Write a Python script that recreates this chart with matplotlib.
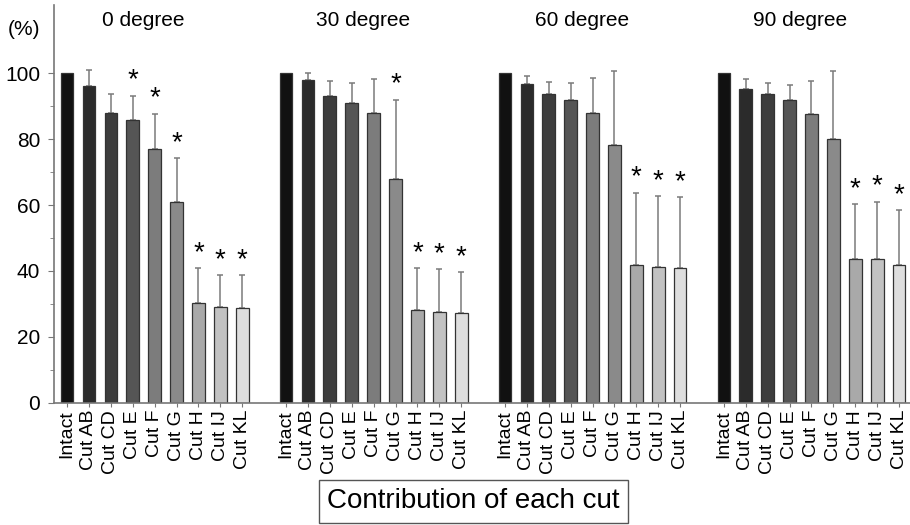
import numpy as np
import matplotlib
matplotlib.use("Agg")
import matplotlib.pyplot as plt

plt.rcParams['font.family'] = ['Liberation Sans', 'DejaVu Sans']

cuts = ['Intact', 'Cut AB', 'Cut CD', 'Cut E', 'Cut F', 'Cut G', 'Cut H', 'Cut IJ', 'Cut KL']
angles = ['0 degree', '30 degree', '60 degree', '90 degree']

# mean contribution (%) and upper SD for each angle
mean_0 = [100, 96.2, 87.9, 85.9, 76.9, 61.0, 30.4, 29.2, 28.7]
sd_0 = [0, 4.6, 5.7, 7.2, 10.8, 13.1, 10.5, 9.6, 10.1]
mean_30 = [100, 98.0, 93.0, 90.8, 87.9, 67.8, 28.1, 27.5, 27.3]
sd_30 = [0, 2.1, 4.5, 6.1, 10.2, 24.1, 12.8, 13.1, 12.4]
mean_60 = [100, 96.8, 93.6, 91.8, 87.9, 78.3, 41.7, 41.1, 40.9]
sd_60 = [0, 2.2, 3.7, 5.1, 10.6, 22.2, 22.0, 21.6, 21.5]
mean_90 = [100, 95.3, 93.6, 91.8, 87.7, 80.1, 43.6, 43.6, 41.7]
sd_90 = [0, 2.8, 3.4, 4.5, 9.8, 20.5, 16.6, 17.4, 16.7]

# significance marks (*)
sig_0 = [0, 0, 0, 1, 1, 1, 1, 1, 1]
sig_30 = [0, 0, 0, 0, 0, 1, 1, 1, 1]
sig_60 = [0, 0, 0, 0, 0, 0, 1, 1, 1]
sig_90 = [0, 0, 0, 0, 0, 0, 1, 1, 1]

means = [mean_0, mean_30, mean_60, mean_90]
sds = [sd_0, sd_30, sd_60, sd_90]
sigs = [sig_0, sig_30, sig_60, sig_90]

colors = ['#111111', '#2b2b2b', '#3d3d3d', '#555555', '#7c7c7c',
          '#8a8a8a', '#a9a9a9', '#c2c2c2', '#dedede']

fig = plt.figure(figsize=(9.1, 5.25), dpi=100)
ax = fig.add_axes([0.0593, 0.2324, 0.9407, 0.758])

n = len(cuts)
ticks = []
labels = []
for g in range(len(angles)):
    x = np.arange(n) + g * (n + 1)
    m = np.array(means[g])
    s = np.array(sds[g])
    ax.bar(x, m, width=0.58, color=colors, edgecolor='#333333', linewidth=0.9, zorder=2)
    has_err = s > 0
    ax.errorbar(x[has_err], m[has_err], yerr=[np.zeros(has_err.sum()), s[has_err]],
                fmt='none', ecolor='#7a7a7a', elinewidth=1.1, capsize=2.2, capthick=1.1, zorder=1)
    for xi, mi, si, flag in zip(x, m, s, sigs[g]):
        if flag:
            ax.text(xi, mi + si + 4.6, '*', ha='center', va='center', fontsize=20)
    ax.text(x[0] + 3.5, 116, angles[g], ha='center', va='center', fontsize=15)
    ticks.extend(x)
    labels.extend(cuts)

ax.set_xlim(-0.6, 38.5)
ax.set_ylim(0, 120.6)
ax.set_xticks(ticks)
ax.set_xticklabels(labels, rotation=90, fontsize=14)
ax.set_yticks(np.arange(0, 101, 20))
ax.set_yticks([10, 30, 50, 70, 90], minor=True)
ax.tick_params(axis='y', labelsize=15, length=4, color='#777777', pad=6)
ax.tick_params(axis='y', which='minor', length=3, color='#777777')
ax.tick_params(axis='x', length=3, color='#777777', pad=2)
for side in ['top', 'right']:
    ax.spines[side].set_visible(False)
for side in ['left', 'bottom']:
    ax.spines[side].set_color('#777777')
    ax.spines[side].set_linewidth(1.2)

fig.text(0.008, 0.943, '(%)', fontsize=15, ha='left', va='center')
fig.text(0.52, 0.045, 'Contribution of each cut', fontsize=20, ha='center', va='center',
         bbox=dict(boxstyle='square,pad=0.3', facecolor='white', edgecolor='#555555', linewidth=1))

fig.savefig('out.png', dpi=100)
